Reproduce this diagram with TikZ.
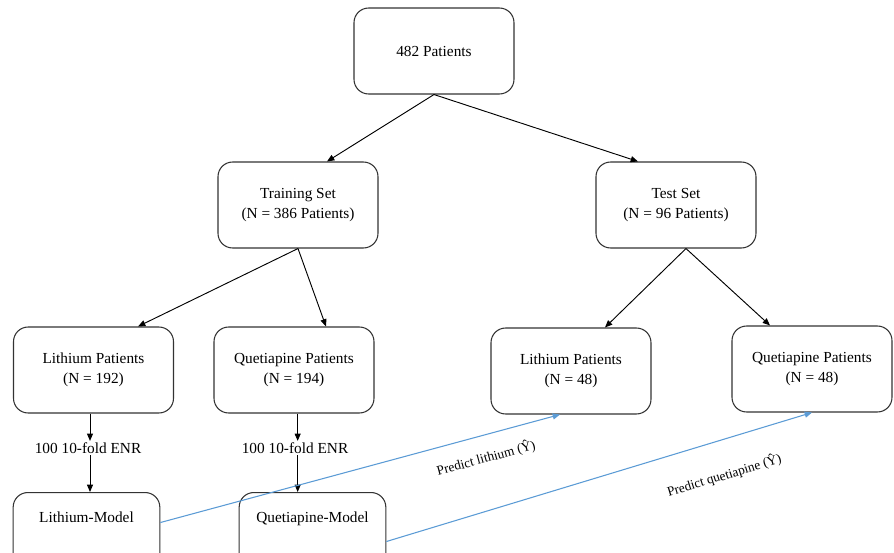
\documentclass[tikz,border=0pt]{standalone}
\usepackage{fontspec}
\setmainfont{Liberation Serif}
\usetikzlibrary{arrows.meta}
\definecolor{predblue}{RGB}{91,155,213}

\begin{document}
\begin{tikzpicture}[
        x                       = 0.75pt,
        y                       = -0.75pt,
        font                    = \fontsize{11.5}{15}\selectfont,
        box/.style              = {draw=black!80, line width=0.8pt, rounded corners=11pt, align=center, minimum width=120pt, minimum height=64.5pt},
        modelbox/.style         = {box, minimum width=110pt, anchor=north, inner sep=0pt, text height=22.5pt, text depth=42pt},
        enr/.style              = {inner sep=1pt},
        split/.style            = {draw, line width=0.7pt, -{Triangle[length=5.5pt, width=4.5pt]}},
        predict/.style          = {draw=predblue, line width=0.8pt, -{Triangle[length=5.5pt, width=4.5pt]}},
        plabel/.style           = {font=\fontsize{10}{12}\selectfont, sloped, below=8pt, pos=0.8},
        %sloped
      ]
        \useasboundingbox (0,0) rectangle (894,553);
        \clip (0,0) rectangle (894,553);

        \node[box] (all) at (434,51) {482 Patients};
        \node[box] (train) at (298,205) {Training Set\\(N = 386 Patients)};
        \node[box] (test) at (676,205) {Test Set\\(N = 96 Patients)};
        \node[box] (litrain) at (93.5,370) {Lithium Patients\\(N = 192)};
        \node[box] (qutrain) at (294,370) {Quetiapine Patients\\(N = 194)};
        \node[box] (litest) at (571,371) {Lithium Patients\\(N = 48)};
        \node[box] (qutest) at (812,369) {Quetiapine Patients\\(N = 48)};
        \node[enr] (enrli) at (88,448) {100 10-fold ENR};
        \node[enr] (enrqu) at (295,448) {100 10-fold ENR};
        \node[modelbox] (limodel) at (86.5,492) {Lithium-Model};
        \node[modelbox] (qumodel) at (312.5,492) {Quetiapine-Model};

        % splits
        \draw[split] (all.south) -- ([xshift=21.75pt]train.north);
        \draw[split] (all.south) -- ([xshift=-28.5pt]test.north);
        \draw[split] (train.south) -- ([xshift=33.4pt]litrain.north);
        \draw[split] (train.south) -- ([xshift=24pt]qutrain.north);
        \draw[split] ([xshift=7.5pt]test.south) -- ([xshift=25.5pt]litest.north);
        \draw[split] ([xshift=7.5pt]test.south) -- ([xshift=-31.5pt]qutest.north);

        % model fitting
        \draw[split] ([xshift=1.5pt]litrain.south -| enrli) -- ([xshift=1.5pt]enrli.north);
        \draw[split] ([xshift=1.5pt]enrli.south) -- ([xshift=1.5pt]enrli.south |- limodel.north);
        \draw[split] ([xshift=2pt]qutrain.south -| enrqu) -- ([xshift=2pt]enrqu.north);
        \draw[split] ([xshift=2pt]enrqu.south) -- ([xshift=2pt]enrqu.south |- qumodel.north);

        % predictions
        \draw[predict] (limodel.base east) -- ([xshift=-8.25pt]litest.south)
            node[plabel] {Predict lithium (Ŷ)};
        \draw[predict] ([yshift=-4.5pt]qumodel.east) -- (qutest.south)
            node[plabel, below=9pt, pos=0.77] {Predict quetiapine (Ŷ)};
    \end{tikzpicture}
\end{document}
